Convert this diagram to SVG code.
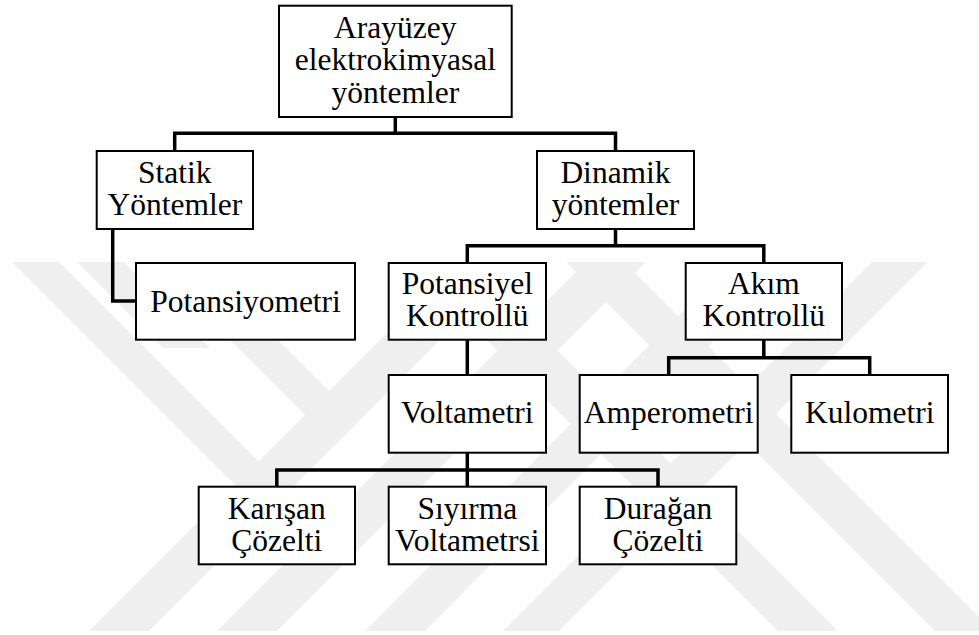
<svg xmlns="http://www.w3.org/2000/svg" width="979" height="635" viewBox="0 0 979 635">
<style>
.box{fill:#fff;stroke:#000;stroke-width:2}
.lbl{font-family:"Liberation Serif","Times New Roman",serif;font-size:31.5px;fill:#000;text-anchor:middle}
.con{fill:none;stroke:#000;stroke-width:3.5;stroke-linejoin:miter;stroke-linecap:square}
.wm{fill:#efefef}
</style>
<defs>
<clipPath id="wmclip"><rect x="0" y="262" width="979" height="369"/></clipPath>
</defs>
<rect width="979" height="635" fill="#fff"/>
<g id="watermark" clip-path="url(#wmclip)">
<polygon class="wm" points="10,260 57,260 288.5,491.5 265,515"/>
<polygon class="wm" points="75,260 122,260 210,348 163,348"/>
<polygon class="wm" points="150,260 198,260 359,421 335,445"/>
<polygon class="wm" points="460,260 520,260 147,633 87,633"/>
<polygon class="wm" points="588,260 648,260 275,633 215,633"/>
<polygon class="wm" points="564,260 622,260 995,633 937,633"/>
<polygon class="wm" points="874,260 930,260 557,633 501,633"/>
<polygon class="wm" points="407,260 467,260 840,633 780,633"/>
<polygon class="wm" points="734,260 794,260 423,633 363,633"/>
</g>
<g id="connectors">
<path class="con" d="M395.3,117 V133.3 M174.7,133.3 H615.5 M174.7,133.3 V151 M615.5,133.3 V151"/>
<path class="con" d="M112.7,229 V301 H136"/>
<path class="con" d="M615.5,229 V245.7 M467.3,245.7 H763.8 M467.3,245.7 V263 M763.8,245.7 V263"/>
<path class="con" d="M467.3,339.7 V375"/>
<path class="con" d="M763.8,339.7 V357.7 M668.7,357.7 H869.7 M668.7,357.7 V375 M869.7,357.7 V375"/>
<path class="con" d="M467.3,452.7 V486.7 M276.8,470 H658 M276.8,470 V486.7 M658,470 V486.7"/>
</g>
<g id="n-root">
<rect class="box" x="279" y="5.7" width="232.7" height="111.3"/>
<text class="lbl" x="395.3" y="37.5">Arayüzey</text>
<text class="lbl" x="395.3" y="70">elektrokimyasal</text>
<text class="lbl" x="395.3" y="102.5">yöntemler</text>
</g>
<g id="n-statik">
<rect class="box" x="96.7" y="151" width="156.3" height="78"/>
<text class="lbl" x="174.85" y="182.7">Statik</text>
<text class="lbl" x="174.85" y="215">Yöntemler</text>
</g>
<g id="n-dinamik">
<rect class="box" x="537" y="151" width="157" height="78"/>
<text class="lbl" x="615.5" y="182.7">Dinamik</text>
<text class="lbl" x="615.5" y="215">yöntemler</text>
</g>
<g id="n-potansiyometri">
<rect class="box" x="136" y="263" width="219" height="76.7"/>
<text class="lbl" x="245.5" y="311.7">Potansiyometri</text>
</g>
<g id="n-potansiyel">
<rect class="box" x="388.7" y="263" width="157.3" height="76.7"/>
<text class="lbl" x="467.3" y="294">Potansiyel</text>
<text class="lbl" x="467.3" y="326.3">Kontrollü</text>
</g>
<g id="n-akim">
<rect class="box" x="685.7" y="263" width="156.3" height="76.7"/>
<text class="lbl" x="763.8" y="294">Akım</text>
<text class="lbl" x="763.8" y="326.3">Kontrollü</text>
</g>
<g id="n-voltametri">
<rect class="box" x="388.7" y="375" width="157.3" height="77.7"/>
<text class="lbl" x="467.3" y="423.3">Voltametri</text>
</g>
<g id="n-amperometri">
<rect class="box" x="579.7" y="375" width="178" height="77.7"/>
<text class="lbl" x="668.7" y="423.3">Amperometri</text>
</g>
<g id="n-kulometri">
<rect class="box" x="791.3" y="375" width="156.7" height="77.7"/>
<text class="lbl" x="869.7" y="423.3">Kulometri</text>
</g>
<g id="n-karisan">
<rect class="box" x="198.7" y="486.7" width="156.3" height="77.6"/>
<text class="lbl" x="276.8" y="519">Karışan</text>
<text class="lbl" x="276.8" y="551">Çözelti</text>
</g>
<g id="n-siyirma">
<rect class="box" x="388.7" y="486.7" width="157.3" height="77.6"/>
<text class="lbl" x="467.3" y="519">Sıyırma</text>
<text class="lbl" x="467.3" y="551">Voltametrsi</text>
</g>
<g id="n-duragan">
<rect class="box" x="579.7" y="486.7" width="156.6" height="77.6"/>
<text class="lbl" x="658" y="519">Durağan</text>
<text class="lbl" x="658" y="551">Çözelti</text>
</g>
</svg>
